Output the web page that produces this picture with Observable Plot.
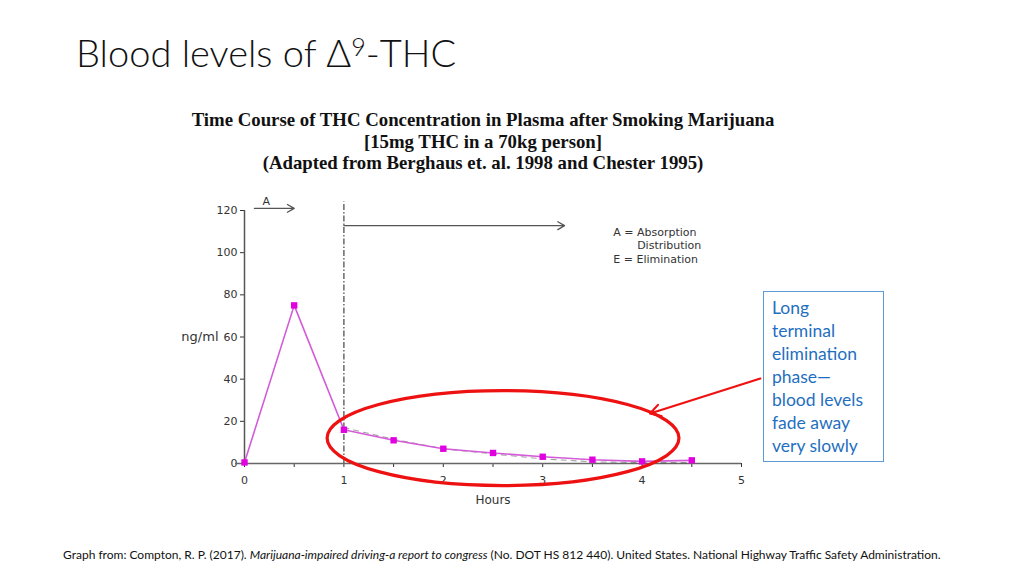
<!DOCTYPE html>
<html><head><meta charset="utf-8">
<script src="https://cdn.jsdelivr.net/npm/d3@7"></script>
<script src="https://cdn.jsdelivr.net/npm/@observablehq/plot@0.6"></script>
<style>
body{margin:0;background:#fff;}
#slide{position:relative;width:1024px;height:576px;overflow:hidden;background:#fff;}
#title{position:absolute;left:76px;top:27px;font-family:Lato,"Open Sans",sans-serif;font-weight:300;font-size:38px;color:#111;white-space:nowrap;line-height:50px;}
#title sup{font-size:25px;vertical-align:top;position:relative;top:-6px;}
#ctitle{position:absolute;left:133px;width:700px;top:109px;text-align:center;font-family:"Liberation Serif","Times New Roman",serif;font-weight:bold;font-size:18.8px;line-height:21.5px;color:#111;}
#chart{position:absolute;left:0;top:190px;}
#note{position:absolute;left:763px;top:291px;border:1px solid #5b9bd5;font-family:Lato,sans-serif;font-size:17.5px;line-height:23px;color:#1f6fbf;padding:4px 0 0 8px;box-sizing:border-box;width:121px;height:171px;}
#caption{position:absolute;left:63px;top:547px;font-family:Lato,sans-serif;font-size:12px;color:#111;white-space:nowrap;}
</style></head><body>
<div id="slide">
<div id="title">Blood levels of Δ<sup>9</sup>-THC</div>
<div id="ctitle">Time Course of THC Concentration in Plasma after Smoking Marijuana<br>[15mg THC in a 70kg person]<br>(Adapted from Berghaus et. al. 1998 and Chester 1995)</div>
<div id="chart"></div>
<div id="note">Long<br>terminal<br>elimination<br>phase—<br>blood levels<br>fade away<br>very slowly</div>
<div id="caption">Graph from: Compton, R. P. (2017). <i>Marijuana-impaired driving-a report to congress</i> (No. DOT HS 812 440). United States. National Highway Traffic Safety Administration.</div>
</div>
<script>
// THC plasma concentration (ng/ml) vs hours
const hours = [0, 0.5, 1, 1.5, 2, 2.5, 3, 3.5, 4, 4.5];
const conc  = [0.5, 75, 16, 11, 7, 5, 3.2, 1.8, 1, 1.5];
// faint dark dashed trace visible under the elimination curve
const darkHours = [1, 1.5, 2, 2.5, 3, 3.5, 4, 4.5];
const darkConc  = [17, 11.5, 7, 4.5, 2.2, 0.8, 0.4, 0.4];
// axis ticks
const yTicks = [0, 20, 40, 60, 80, 100, 120];
const xTicks = [0, 0.5, 1, 1.5, 2, 2.5, 3, 3.5, 4, 4.5, 5];
// phase annotations (data units)
const phaseArrows = [
  {x1: 0.1, x2: 0.5, y: 121, label: "A", lx: 0.22, ly: 124.5},
  {x1: 1.0, x2: 3.22, y: 112.8, label: "", lx: 0, ly: 0}
];
const legendLines = [
  {x: 3.71, y: 109.5, text: "A = Absorption"},
  {x: 3.95, y: 103.3, text: "Distribution"},
  {x: 3.71, y: 96.7, text: "E = Elimination"}
];
const highlight = {cx: 2.606, cy: 11.8, rx: 1.77, ry: 22.5};
const pointer = {x1: 5.19, y1: 40.3, x2: 4.08, y2: 23.7};

const data = hours.map((h, i) => ({h, c: conc[i]}));
const dark = darkHours.map((h, i) => ({h, c: darkConc[i]}));

const plot = Plot.plot({
  width: 1024, height: 340,
  marginLeft: 244, marginRight: 283, marginTop: 20, marginBottom: 67,
  style: {fontFamily: "DejaVu Sans, Verdana, sans-serif", fontSize: "11px", color: "#333", background: "transparent", overflow: "visible"},
  x: {domain: [0, 5]},
  y: {domain: [0, 120]},
  marks: [
    Plot.axisY({ticks: yTicks, tickSize: 4, tickPadding: 3, label: null, fill: "#333"}),
    Plot.axisX({ticks: xTicks, tickSize: 4, tickPadding: 9, tickFormat: d => Number.isInteger(d) ? d : "", label: null, fill: "#333"}),
    Plot.text(["Hours"], {frameAnchor: "bottom", dy: 40, fontSize: 12, fill: "#333"}),
    Plot.ruleX([0], {y1: 0, y2: 120, stroke: "#555", strokeWidth: 1.5}),
    Plot.ruleY([0], {x1: -0.09, x2: 5, stroke: "#666", strokeWidth: 1.5}),
    Plot.text(["ng/ml"], {frameAnchor: "left", y: 60, dx: -26, textAnchor: "end", fontSize: 13, fill: "#333"}),
    Plot.ruleX([1], {y1: 0, y2: 124, stroke: "#444", strokeWidth: 1.2, strokeDasharray: "6,2,1.5,2"}),
    Plot.arrow(phaseArrows, {x1: "x1", x2: "x2", y1: "y", y2: "y", stroke: "#555", strokeWidth: 1.3, headLength: 9}),
    Plot.text(phaseArrows.filter(d => d.label), {x: "lx", y: "ly", text: "label", fill: "#333"}),
    Plot.text(legendLines, {x: "x", y: "y", text: "text", textAnchor: "start", fill: "#333", fontSize: 11}),
    Plot.line(dark, {x: "h", y: "c", stroke: "#333", strokeWidth: 1.1, strokeDasharray: "5,5", strokeOpacity: 0.45}),
    Plot.line(data, {x: "h", y: "c", stroke: "#d45bd8", strokeWidth: 1.6}),
    Plot.dot(data, {x: "h", y: "c", symbol: "square", r: 3.6, fill: "#e000e0", stroke: "none"}),
    Plot.arrow([pointer], {x1: "x1", y1: "y1", x2: "x2", y2: "y2", stroke: "#f01010", strokeWidth: 2.2, headLength: 8})
  ]
});
document.getElementById("chart").appendChild(plot);

// red highlight ellipse positioned via the plot's own scales
const sx = plot.scale("x"), sy = plot.scale("y");
const X = v => sx.apply(v), Y = v => sy.apply(v);
d3.select(plot).append("ellipse")
  .attr("cx", X(highlight.cx)).attr("cy", Y(highlight.cy))
  .attr("rx", X(highlight.cx + highlight.rx) - X(highlight.cx))
  .attr("ry", Y(highlight.cy) - Y(highlight.cy + highlight.ry))
  .attr("fill", "none").attr("stroke", "#ee1111").attr("stroke-width", 3.2);
</script>
</body></html>
